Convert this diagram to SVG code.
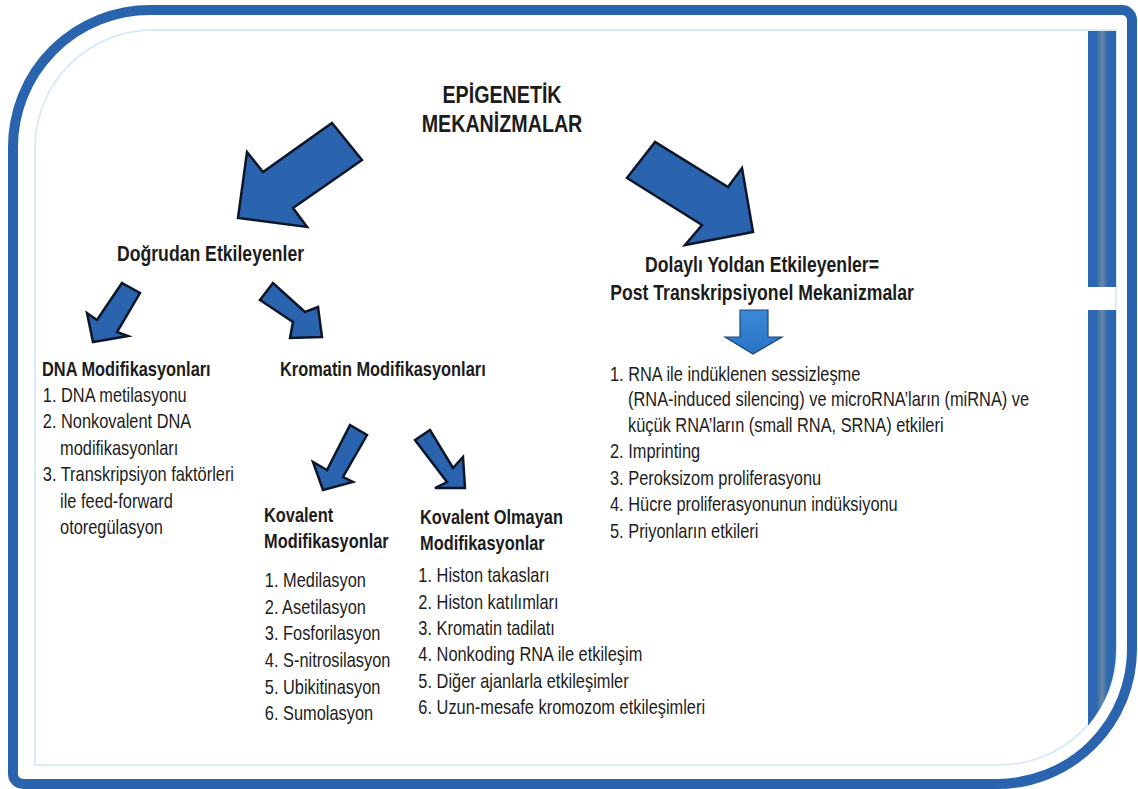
<svg xmlns="http://www.w3.org/2000/svg" width="1138" height="789" viewBox="0 0 1138 789">
<defs>
<linearGradient id="bar" x1="0" y1="0" x2="1" y2="0">
<stop offset="0" stop-color="#2a66b1"/>
<stop offset="0.3" stop-color="#2d68b0"/>
<stop offset="0.5" stop-color="#6c89a6"/>
<stop offset="0.7" stop-color="#2d68b0"/>
<stop offset="1" stop-color="#2a66b1"/>
</linearGradient>
<linearGradient id="down" x1="0" y1="0" x2="0" y2="1">
<stop offset="0" stop-color="#3a8ad8"/>
<stop offset="1" stop-color="#2a72c4"/>
</linearGradient>
<style>
.t{font-family:"Liberation Sans",Arial,sans-serif;font-size:20px;fill:#1c1c1c}
.b{font-weight:bold}
.arw{fill:#2a63ae;stroke:#0c1628;stroke-width:2.5;stroke-linejoin:miter}
</style>
</defs>
<rect x="0" y="0" width="1138" height="789" fill="#ffffff"/>
<g id="frame">
<path d="M35,765 V148 A118,118 0 0 1 153,30 H1116 V649 A116,116 0 0 1 1000,765 Z" fill="none" stroke="#d8ecf9" stroke-width="2"/>
<path d="M13,774 V147 A137,137 0 0 1 150,10 H1122 A10,10 0 0 1 1132,20 V649 A135,135 0 0 1 997,784 H23 A10,10 0 0 1 13,774 Z" fill="none" stroke="#2b64ae" stroke-width="10"/>
<rect x="1088" y="31" width="28" height="256" fill="url(#bar)"/>
<path d="M1088,310 H1116 V649 A119,119 0 0 1 1088,725.7 Z" fill="url(#bar)"/>
</g>
<g id="connectors">
<polygon class="arw" points="332,123 362,160 293,208 307,227 238,218 247,152 263,172"/>
<polygon class="arw" points="655,142 627,178 702,225 685,245 753,232 742,168 728,187"/>
<polygon class="arw" points="122,283 140,293 117,332 128,336 93,342 87,313 97,320"/>
<polygon class="arw" points="273,283 260,300 293,322 290,338 322,337 318,307 305,312"/>
<polygon class="arw" points="350,425 367,435 343,477 353,482 323,490 313,462 327,470"/>
<polygon class="arw" points="430,430 415,440 447,482 435,488 465,488 463,457 453,468"/>
<polygon points="740,310 768,310 768,337 782,337 753,354 725,337 740,337" fill="url(#down)" stroke="#1d4679" stroke-width="1.2"/>
</g>
<g id="title" transform="translate(502,0) scale(0.82,1)">
<text class="t b" x="0" y="103" text-anchor="middle" style="font-size:24px">EPİGENETİK</text>
<text class="t b" x="0" y="132" text-anchor="middle" style="font-size:24px">MEKANİZMALAR</text>
</g>
<g id="dogrudan" transform="translate(117,0) scale(0.82,1)">
<text class="t b" x="0" y="261" style="font-size:21.5px">Doğrudan Etkileyenler</text>
</g>
<g id="dolayli" transform="translate(762,0) scale(0.82,1)">
<text class="t b" x="0" y="272" text-anchor="middle" style="font-size:21.5px">Dolaylı Yoldan Etkileyenler=</text>
<text class="t b" x="0" y="300" text-anchor="middle" style="font-size:21.5px">Post Transkripsiyonel Mekanizmalar</text>
</g>
<g id="dna" transform="translate(42,0) scale(0.82,1)">
<text class="t b" x="0" y="376">DNA Modifikasyonları</text>
<text class="t" x="1" y="402">1. DNA metilasyonu</text>
<text class="t" x="1" y="428">2. Nonkovalent DNA</text>
<text class="t" x="22" y="455">modifikasyonları</text>
<text class="t" x="1" y="481">3. Transkripsiyon faktörleri</text>
<text class="t" x="22" y="508">ile feed-forward</text>
<text class="t" x="22" y="534">otoregülasyon</text>
</g>
<g id="kromatin" transform="translate(280,0) scale(0.82,1)">
<text class="t b" x="0" y="376">Kromatin Modifikasyonları</text>
</g>
<g id="kovalent" transform="translate(264,0) scale(0.82,1)">
<text class="t b" x="0" y="522">Kovalent</text>
<text class="t b" x="0" y="548">Modifikasyonlar</text>
<text class="t" x="1" y="587">1. Medilasyon</text>
<text class="t" x="1" y="614">2. Asetilasyon</text>
<text class="t" x="1" y="640">3. Fosforilasyon</text>
<text class="t" x="1" y="667">4. S-nitrosilasyon</text>
<text class="t" x="1" y="694">5. Ubikitinasyon</text>
<text class="t" x="1" y="720">6. Sumolasyon</text>
</g>
<g id="kovalent-olmayan" transform="translate(420,0) scale(0.82,1)">
<text class="t b" x="0" y="524">Kovalent Olmayan</text>
<text class="t b" x="0" y="550">Modifikasyonlar</text>
<text class="t" x="-2" y="582">1. Histon takasları</text>
<text class="t" x="-2" y="609">2. Histon katılımları</text>
<text class="t" x="-2" y="635">3. Kromatin tadilatı</text>
<text class="t" x="-2" y="661">4. Nonkoding RNA ile etkileşim</text>
<text class="t" x="-2" y="688">5. Diğer ajanlarla etkileşimler</text>
<text class="t" x="-2" y="714">6. Uzun-mesafe kromozom etkileşimleri</text>
</g>
<g id="post-trans" transform="translate(610,0) scale(0.82,1)">
<text class="t" x="0" y="381">1. RNA ile indüklenen sessizleşme</text>
<text class="t" x="22" y="406">(RNA-induced silencing) ve microRNA’ların (miRNA) ve</text>
<text class="t" x="22" y="432">küçük RNA’ların (small RNA, SRNA) etkileri</text>
<text class="t" x="0" y="458">2. Imprinting</text>
<text class="t" x="0" y="485">3. Peroksizom proliferasyonu</text>
<text class="t" x="0" y="511">4. Hücre proliferasyonunun indüksiyonu</text>
<text class="t" x="0" y="538">5. Priyonların etkileri</text>
</g>
</svg>
